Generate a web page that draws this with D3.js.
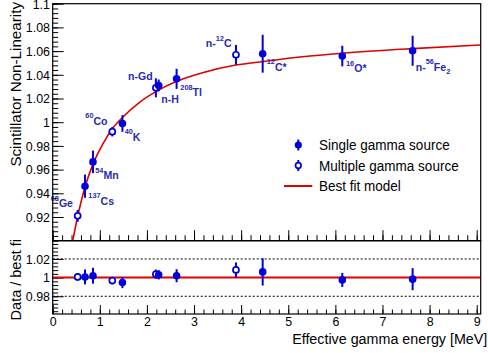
<!DOCTYPE html>
<html><head><meta charset="utf-8">
<script src="https://cdn.jsdelivr.net/npm/d3@7"></script>
<style>html,body{margin:0;padding:0;background:#fff;}svg{display:block;}</style>
</head><body><svg id="chart" width="488" height="353"></svg>
<script>
// ---------- data ----------
const sources = ["68Ge","137Cs","54Mn","60Co","40K","n-H","n-Gd","208Tl","n-12C","12C*","16O*","n-56Fe2"];
const energies = [0.53, 0.686, 0.855, 1.265, 1.48, 2.19, 2.25, 2.63, 3.89, 4.457, 6.147, 7.64];
const isMultiple = [true, false, false, true, false, true, false, false, true, false, false, false];
const nonLinearity = [0.921, 0.946, 0.9665, 0.992, 0.9989, 1.029, 1.031, 1.0366, 1.0569, 1.0578, 1.0558, 1.0603];
const nonLinearityErr = [0.005, 0.0098, 0.0095, 0.004, 0.007, 0.008, 0.005, 0.0085, 0.0083, 0.016, 0.0087, 0.0127];
const ratioToFit = [1.0007, 1.0007, 1.002, 0.9968, 0.9947, 1.0036, 1.003, 1.002, 1.0082, 1.0061, 0.9975, 0.9983];
const ratioErr = [0.004, 0.008, 0.0085, 0.004, 0.006, 0.005, 0.005, 0.007, 0.008, 0.0146, 0.0075, 0.0118];
const labelText = ["^{68}Ge","^{137}Cs","^{54}Mn","^{60}Co","^{40}K","n-H","n-Gd","^{208}Tl","n-^{12}C","^{12}C*","^{16}O*","n-^{56}Fe_{2}"];
const labelEnergy = [-0.042, 0.756, 0.904, 0.692, 1.528, 2.305, 1.598, 2.709, 3.248, 4.543, 6.226, 7.705];
const labelValue = [0.9282, 0.9304, 0.9519, 0.9978, 0.9845, 1.0161, 1.0352, 1.0217, 1.0634, 1.0436, 1.042, 1.0436];
const fitEnergy = [0.425, 0.53, 0.686, 0.855, 1.07, 1.265, 1.48, 1.85, 2.2, 2.63, 3.2, 3.89, 4.46, 5.3, 6.15, 7.64, 9.085];
const fitValue  = [0.900, 0.9204, 0.9453, 0.9646, 0.982, 0.9945, 1.004, 1.017, 1.026, 1.0345, 1.042, 1.0482, 1.0512, 1.0552, 1.0582, 1.0621, 1.0652];
const xTickValues = [0,1,2,3,4,5,6,7,8,9];
const yTopTickValues = [0.92,0.94,0.96,0.98,1,1.02,1.04,1.06,1.08,1.1];
const yBottomTickValues = [0.98,1,1.02];
const legendLabels = ["Single gamma source","Multiple gamma source","Best fit model"];
const xTitle = "Effective gamma energy [MeV]";
const yTopTitle = "Scintillator Non-Linearity";
const yBottomTitle = "Data / best fi";

// ---------- layout ----------
const FONT = '"Liberation Sans", Arial, Helvetica, sans-serif';
const SX = 0.92;
const BLUE = "#0000dd", LBLUE = "#2a2ab0", RED = "#e00000";
const L = 52.7, R = 480.7, T1 = 3.7, B1 = 240.7, B2 = 314;
const svg = d3.select("#chart");

const x = d3.scaleLinear().domain([0, 9.085]).range([L, R]);
const yTop = d3.scaleLinear().domain([0.9, 1.1]).range([B1, T1]);
const yBot = d3.scaleLinear().domain([0.961, 1.0395]).range([B2, B1]);

const fmt = d => String(+d.toFixed(3));
const minorRange = (a, b, s) => d3.range(Math.round((b - a) / s) + 1).map(i => +(a + i * s).toFixed(4));

function styleAxis(g, size) {
  g.attr("font-family", FONT).attr("font-size", size);
  g.select(".domain").remove();
  g.selectAll(".tick line").attr("stroke", "#000").attr("stroke-width", 1);
  g.selectAll(".tick text").attr("fill", "#000").attr("transform", `scale(${SX},1)`);
}

// clip paths
const defs = svg.append("defs");
defs.append("clipPath").attr("id", "clipTop").append("rect").attr("x", L).attr("y", T1).attr("width", R - L).attr("height", B1 - T1);
defs.append("clipPath").attr("id", "clipBot").append("rect").attr("x", L).attr("y", B1).attr("width", R - L).attr("height", B2 - B1);

// ---------- axes: top panel ----------
svg.append("g").attr("transform", `translate(${L},0)`)
  .call(d3.axisLeft(yTop).tickValues(minorRange(0.9, 1.1, 0.004)).tickSize(-5.5).tickFormat(""))
  .call(g => styleAxis(g, 13.5));
svg.append("g").attr("transform", `translate(${L},0)`)
  .call(d3.axisLeft(yTop).tickValues(yTopTickValues).tickSize(-11).tickPadding(3).tickFormat(fmt))
  .call(g => styleAxis(g, 13.5));
svg.append("g").attr("transform", `translate(0,${B1})`)
  .call(d3.axisBottom(x).tickValues(minorRange(0, 9, 0.2)).tickSize(-5.5).tickFormat(""))
  .call(g => styleAxis(g, 13.5));
svg.append("g").attr("transform", `translate(0,${B1})`)
  .call(d3.axisBottom(x).tickValues(xTickValues).tickSize(-10.5).tickFormat(""))
  .call(g => styleAxis(g, 13.5));

// ---------- axes: bottom panel ----------
svg.append("g").attr("transform", `translate(${L},0)`)
  .call(d3.axisLeft(yBot).tickValues(minorRange(0.964, 1.036, 0.004)).tickSize(-5.5).tickFormat(""))
  .call(g => styleAxis(g, 13.5));
svg.append("g").attr("transform", `translate(${L},0)`)
  .call(d3.axisLeft(yBot).tickValues(yBottomTickValues).tickSize(-11).tickPadding(3).tickFormat(fmt))
  .call(g => styleAxis(g, 13.5));
svg.append("g").attr("transform", `translate(0,${B2})`)
  .call(d3.axisBottom(x).tickValues(minorRange(0, 9, 0.2)).tickSize(-4.5).tickFormat(""))
  .call(g => styleAxis(g, 13.5));
svg.append("g").attr("transform", `translate(0,${B2})`)
  .call(d3.axisBottom(x).tickValues(xTickValues).tickSize(-9).tickPadding(2.5).tickFormat(fmt))
  .call(g => styleAxis(g, 13.5));

// ---------- fit curve ----------
const fitPts = fitEnergy.map((e, i) => [e, fitValue[i]]);
svg.append("path").attr("clip-path", "url(#clipTop)")
  .attr("d", d3.line().x(d => x(d[0])).y(d => yTop(d[1])).curve(d3.curveMonotoneX)(fitPts))
  .attr("fill", "none").attr("stroke", RED).attr("stroke-width", 1.6);

// ---------- ratio panel lines ----------
const gb = svg.append("g").attr("clip-path", "url(#clipBot)");
[0.98, 1.02].forEach(v => gb.append("line").attr("x1", L).attr("x2", R).attr("y1", yBot(v)).attr("y2", yBot(v))
  .attr("stroke", "#000").attr("stroke-width", 1).attr("stroke-dasharray", "2,2"));
gb.append("line").attr("x1", L).attr("x2", R).attr("y1", yBot(1)).attr("y2", yBot(1))
  .attr("stroke", RED).attr("stroke-width", 2);

// ---------- markers ----------
function drawPoints(g, ys, vals, errs) {
  vals.forEach((v, i) => {
    const cx = x(energies[i]), cy = ys(v), e1 = ys(v + errs[i]), e2 = ys(v - errs[i]);
    const open = isMultiple[i];
    const r = open ? 3 : 3.8;
    if (open) {
      g.append("line").attr("x1", cx).attr("x2", cx).attr("y1", e1).attr("y2", cy - r).attr("stroke", BLUE).attr("stroke-width", 2);
      g.append("line").attr("x1", cx).attr("x2", cx).attr("y1", cy + r).attr("y2", e2).attr("stroke", BLUE).attr("stroke-width", 2);
      g.append("circle").attr("cx", cx).attr("cy", cy).attr("r", r).attr("fill", "#fff").attr("stroke", BLUE).attr("stroke-width", 1.7);
    } else {
      g.append("line").attr("x1", cx).attr("x2", cx).attr("y1", e1).attr("y2", e2).attr("stroke", BLUE).attr("stroke-width", 2);
      g.append("circle").attr("cx", cx).attr("cy", cy).attr("r", r).attr("fill", BLUE);
    }
  });
}
drawPoints(svg.append("g"), yTop, nonLinearity, nonLinearityErr);
drawPoints(svg.append("g"), yBot, ratioToFit, ratioErr);

// ---------- rich text labels ----------
function rich(parent, str, px, py, o) {
  const t = parent.append("text").attr("transform", `translate(${px},${py}) scale(${o.sx || SX},1)`)
    .attr("font-family", FONT).attr("font-size", o.size).attr("font-weight", o.weight || "normal").attr("fill", o.fill);
  if (o.anchor) t.attr("text-anchor", o.anchor);
  let cur = 0; const re = /\^\{([^}]*)\}|_\{([^}]*)\}|([^^_]+)/g; let m;
  while ((m = re.exec(str))) {
    let target = 0, txt, size = o.size;
    if (m[1] !== undefined) { target = -o.raise; txt = m[1]; size = o.small; }
    else if (m[2] !== undefined) { target = o.drop; txt = m[2]; size = o.small; }
    else txt = m[3];
    t.append("tspan").attr("dy", target - cur).attr("font-size", size).text(txt);
    cur = target;
  }
  return t;
}
const gl = svg.append("g");
labelText.forEach((s, i) => rich(gl, s, x(labelEnergy[i]), yTop(labelValue[i]),
  { size: 11.5, small: 8, raise: 6.5, drop: 3, weight: "bold", fill: LBLUE }));

// ---------- legend ----------
const lg = svg.append("g");
const rowsY = [145, 165.5, 186], mX = 298.3;
lg.append("line").attr("x1", mX).attr("x2", mX).attr("y1", rowsY[0] - 5.5).attr("y2", rowsY[0] + 5.5).attr("stroke", BLUE).attr("stroke-width", 2);
lg.append("circle").attr("cx", mX).attr("cy", rowsY[0]).attr("r", 3.6).attr("fill", BLUE);
lg.append("line").attr("x1", mX).attr("x2", mX).attr("y1", rowsY[1] - 5.5).attr("y2", rowsY[1] - 2.8).attr("stroke", BLUE).attr("stroke-width", 2);
lg.append("line").attr("x1", mX).attr("x2", mX).attr("y1", rowsY[1] + 2.8).attr("y2", rowsY[1] + 5.5).attr("stroke", BLUE).attr("stroke-width", 2);
lg.append("circle").attr("cx", mX).attr("cy", rowsY[1]).attr("r", 2.8).attr("fill", "#fff").attr("stroke", BLUE).attr("stroke-width", 1.7);
lg.append("line").attr("x1", 284).attr("x2", 312.3).attr("y1", rowsY[2]).attr("y2", rowsY[2]).attr("stroke", RED).attr("stroke-width", 2);
legendLabels.forEach((s, i) => rich(lg, s, 319, rowsY[i] + 5.3, { size: 14.7, small: 10, raise: 5, drop: 3, fill: "#000" }));

// ---------- titles ----------
rich(svg, xTitle, 487.3, 344, { size: 15.3, small: 10, raise: 5, drop: 3, fill: "#000", sx: 0.935, anchor: "end" });
svg.append("text").attr("transform", "translate(20.8,2) rotate(-90)").attr("text-anchor", "end")
  .attr("font-family", FONT).attr("font-size", 15.2).attr("fill", "#000").text(yTopTitle);
svg.append("text").attr("transform", "translate(20.8,239) rotate(-90)").attr("text-anchor", "end")
  .attr("font-family", FONT).attr("font-size", 14.5).attr("fill", "#000").text(yBottomTitle);

// ---------- frames ----------
svg.append("rect").attr("x", L).attr("y", T1).attr("width", R - L).attr("height", B1 - T1).attr("fill", "none").attr("stroke", "#000").attr("stroke-width", 1.2);
svg.append("rect").attr("x", L).attr("y", B1).attr("width", R - L).attr("height", B2 - B1).attr("fill", "none").attr("stroke", "#000").attr("stroke-width", 1.2);
</script></body></html>
